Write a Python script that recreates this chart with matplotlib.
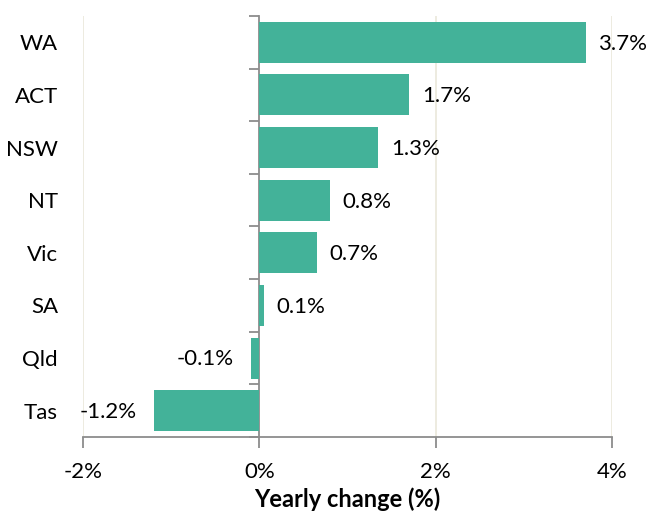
import matplotlib.pyplot as plt
from matplotlib.ticker import FuncFormatter

plt.rcParams['font.family'] = ['Lato', 'DejaVu Sans']

states = ['WA', 'ACT', 'NSW', 'NT', 'Vic', 'SA', 'Qld', 'Tas']
change = [3.7, 1.7, 1.35, 0.8, 0.65, 0.05, -0.1, -1.2]
value_labels = ['3.7%', '1.7%', '1.3%', '0.8%', '0.7%', '0.1%', '-0.1%', '-1.2%']
x_ticks = [-2, 0, 2, 4]

bar_col = '#43B299'
axis_col = '#8C8C8C'
grid_col = '#ECE9DD'

fig = plt.figure(figsize=(6.52, 5.18), dpi=100)
ax = fig.add_axes([0.1273, 0.1564, 0.8114, 0.8127])

pos = list(range(len(states)))
ax.barh(pos, change, height=0.78, color=bar_col, zorder=2)
ax.set_ylim(len(states) - 0.5, -0.5)
ax.set_xlim(-2, 4)

for p, v, lab in zip(pos, change, value_labels):
    if v >= 0:
        ax.annotate(lab, (v, p), xytext=(9, -1), textcoords='offset points',
                    ha='left', va='center', fontsize=16)
    else:
        ax.annotate(lab, (v, p), xytext=(-12, -1), textcoords='offset points',
                    ha='right', va='center', fontsize=16)

# vertical gridlines
for t in x_ticks:
    if t != 0:
        ax.axvline(t, color=grid_col, lw=1.3, zorder=0)

ax.set_xticks(x_ticks)
ax.xaxis.set_major_formatter(FuncFormatter(lambda v, _: f'{v:.0f}%'))
ax.tick_params(axis='x', direction='out', length=8, width=1.3, color=axis_col,
               labelsize=16, pad=10)

ax.set_yticks(pos)
ax.set_yticklabels(states, fontsize=16)
ax.tick_params(axis='y', length=0, pad=18)

for s in ['top', 'right', 'left']:
    ax.spines[s].set_visible(False)
ax.spines['bottom'].set_color(axis_col)
ax.spines['bottom'].set_linewidth(1.3)

# zero line with category boundary ticks
zero_ax = ax.secondary_yaxis(1 / 3)
zero_ax.spines['left'].set_color(axis_col)
zero_ax.spines['left'].set_linewidth(1.3)
zero_ax.set_yticks([p - 0.5 for p in pos] + [len(states) - 0.5])
zero_ax.tick_params(axis='y', direction='out', length=7, width=1.3,
                    color=axis_col, labelleft=False)

ax.set_xlabel('Yearly change (%)', fontsize=17, fontweight='bold', labelpad=4)

fig.savefig('out.png', dpi=100)
